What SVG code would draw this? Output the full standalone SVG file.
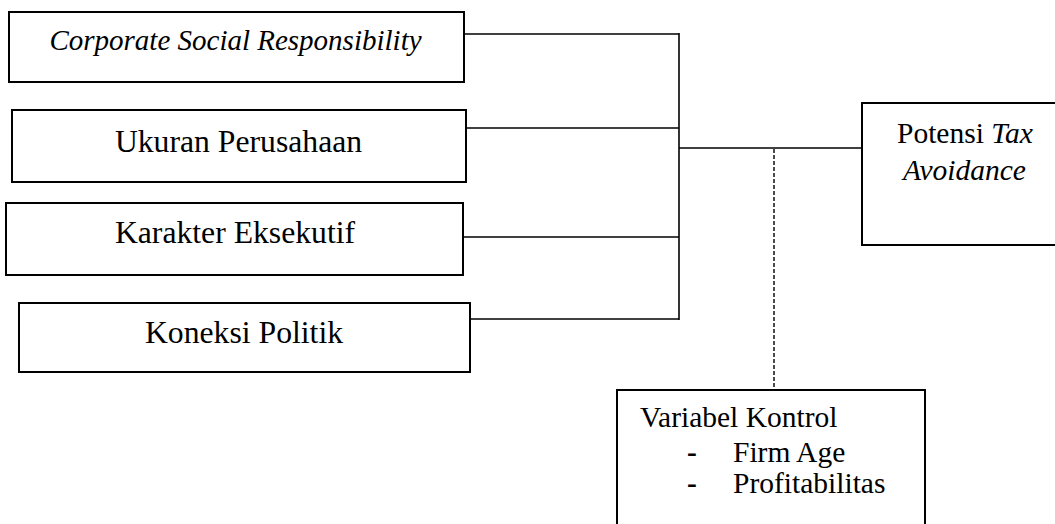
<svg xmlns="http://www.w3.org/2000/svg" width="1055" height="524" viewBox="0 0 1055 524">
<style>
.box{fill:#fff;stroke:#000;stroke-width:2}
.c{stroke:#000;stroke-width:1.6;fill:none}
.d{stroke:#000;stroke-width:1.4;fill:none;stroke-dasharray:4,2}
</style>
<rect width="1055" height="524" fill="#fff"/>
<g id="connectors">
<line class="c" x1="464" y1="34" x2="679" y2="34"/>
<line class="c" x1="462" y1="128" x2="679" y2="128"/>
<line class="c" x1="463" y1="237" x2="679" y2="237"/>
<line class="c" x1="470" y1="319" x2="679" y2="319"/>
<line class="c" x1="679" y1="33" x2="679" y2="320"/>
<line class="c" x1="679" y1="148" x2="862" y2="148"/>
<line class="d" x1="774" y1="149" x2="774" y2="390"/>
</g>
<g font-family="Liberation Serif, DejaVu Serif, serif" fill="#000">
<g id="csr">
<rect class="box" x="9" y="12" width="455" height="70"/>
<text x="235.5" y="50" font-size="29" font-style="italic" text-anchor="middle">Corporate Social Responsibility</text>
</g>
<g id="ukuran">
<rect class="box" x="12" y="110" width="454" height="72"/>
<text x="238.5" y="152" font-size="31.7" text-anchor="middle">Ukuran Perusahaan</text>
</g>
<g id="karakter">
<rect class="box" x="6" y="203" width="457" height="72"/>
<text x="235" y="243" font-size="31.7" text-anchor="middle">Karakter Eksekutif</text>
</g>
<g id="koneksi">
<rect class="box" x="19" y="303" width="451" height="69"/>
<text x="244" y="343" font-size="31.7" text-anchor="middle">Koneksi Politik</text>
</g>
<g id="tax">
<rect class="box" x="862" y="103" width="200" height="142"/>
<text x="897" y="143" font-size="29.5">Potensi <tspan font-style="italic">Tax</tspan></text>
<text x="903" y="180" font-size="29.5" font-style="italic">Avoidance</text>
</g>
<g id="kontrol">
<rect class="box" x="617" y="390" width="308" height="150"/>
<text x="640" y="427" font-size="29.5">Variabel Kontrol</text>
<text x="687" y="462" font-size="29.5" font-weight="bold">-</text>
<text x="733" y="462" font-size="29.5">Firm Age</text>
<text x="687" y="493" font-size="29.5" font-weight="bold">-</text>
<text x="733" y="493" font-size="29.5">Profitabilitas</text>
</g>
</g>
</svg>
